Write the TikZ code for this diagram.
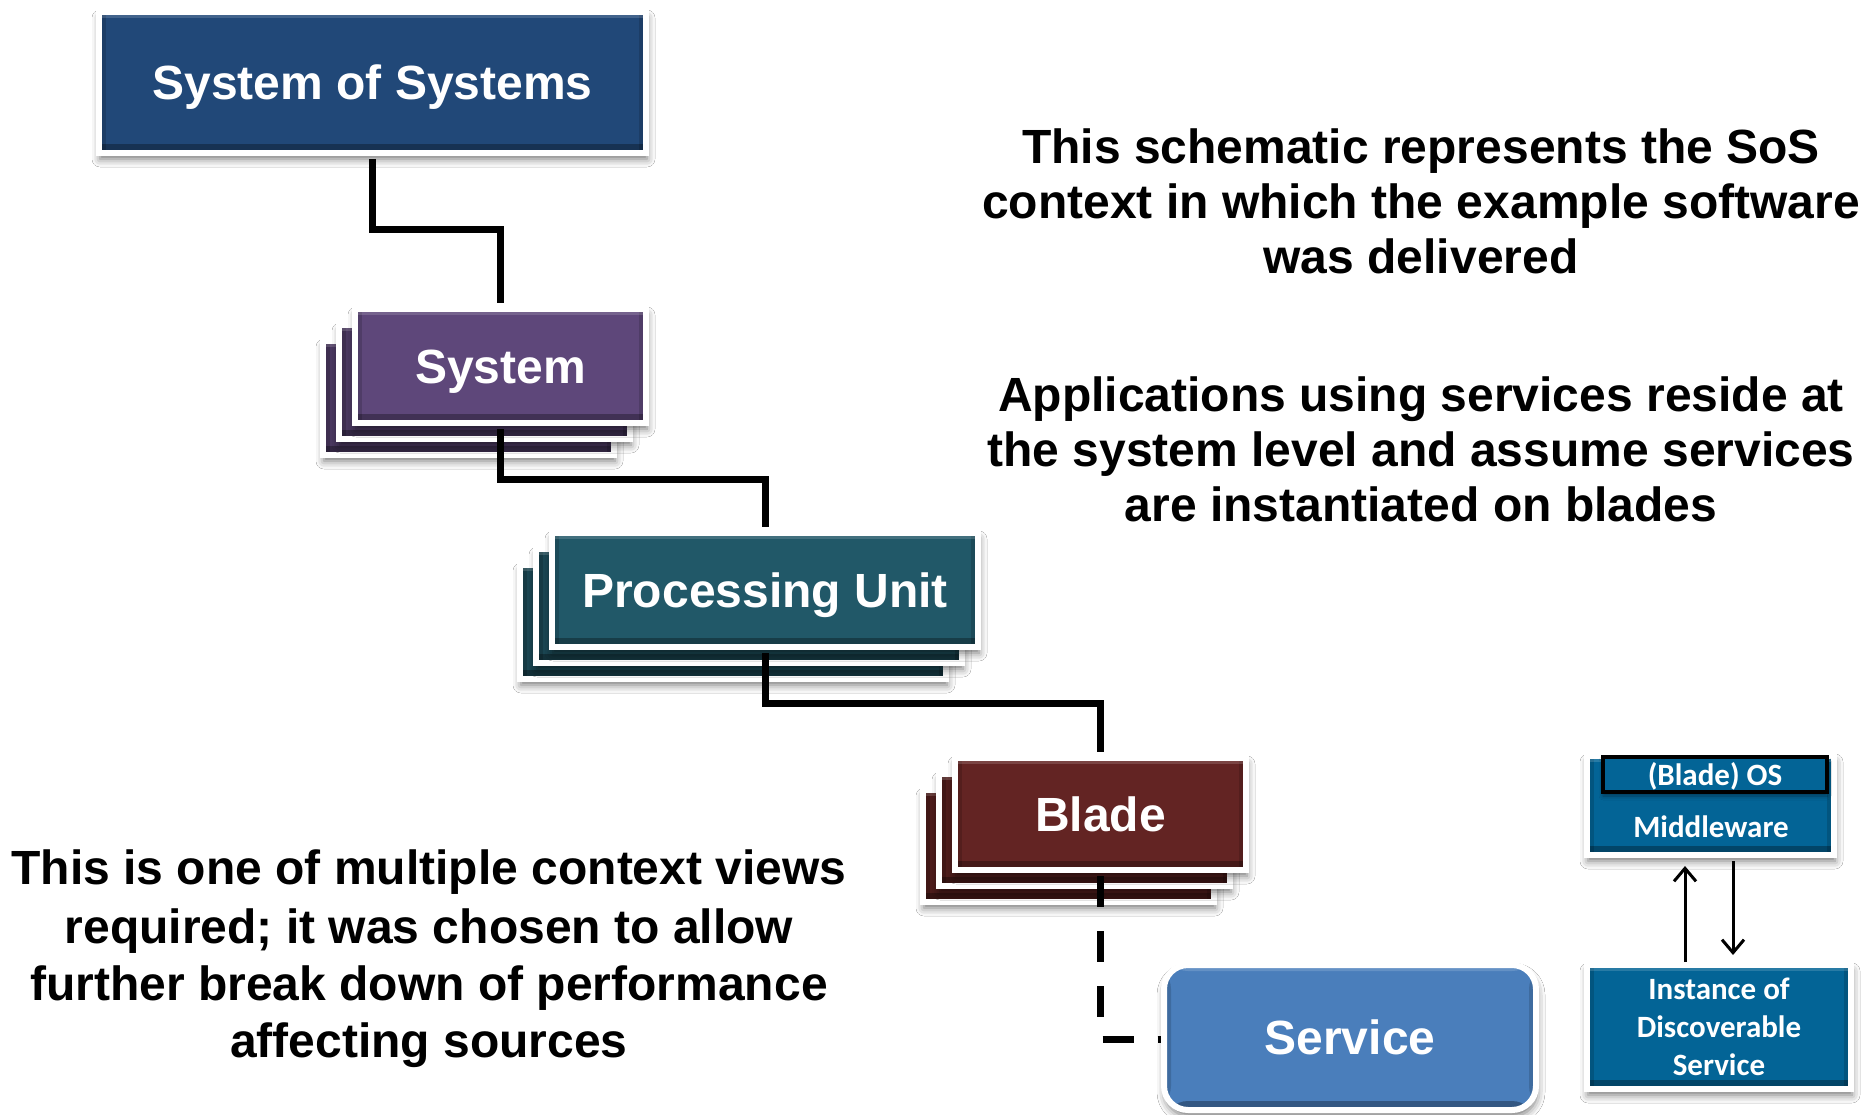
\documentclass[tikz,border=0pt]{standalone}
\usepackage{fontspec}
\setmainfont{Liberation Sans}
\newfontfamily\calfont{Carlito}
\usetikzlibrary{arrows.meta,shadows.blur,calc}
\definecolor{sosblue}{RGB}{33,72,120}
\definecolor{syspurple}{RGB}{94,71,122}
\definecolor{puteal}{RGB}{33,88,104}
\definecolor{bladered}{RGB}{99,36,35}
\definecolor{servblue}{RGB}{74,126,187}
\definecolor{rightblue}{RGB}{3,100,150}
\begin{document}
\begin{tikzpicture}[x=1pt,y=-1pt,
  bevel/.style={path picture={
      \fill[black,opacity=.3] (path picture bounding box.south west) rectangle ([yshift=9pt]path picture bounding box.south east);
      \fill[black,opacity=.15] (path picture bounding box.south east) rectangle ([xshift=-7pt]path picture bounding box.north east);
      \fill[black,opacity=.15] (path picture bounding box.south west) rectangle ([xshift=7pt]path picture bounding box.north west);
      \fill[white,opacity=.15] (path picture bounding box.north west) rectangle ([yshift=-6pt]path picture bounding box.north east);
    }},
  bx/.style={rectangle, inner sep=0pt, draw=white, line width=6pt, text=white,
    font=\bfseries\fontsize{48}{55}\selectfont, text height=34pt, text depth=0pt,
    blur shadow={shadow xshift=1pt, shadow yshift=-6pt, shadow blur radius=8pt, shadow opacity=55},
    bevel},
  smallbx/.style={rectangle, inner sep=0pt, draw=white, line width=6pt, text=white, fill=rightblue,
    font=\calfont\bfseries\fontsize{31}{38}\selectfont,
    blur shadow={shadow xshift=1pt, shadow yshift=-6pt, shadow blur radius=8pt, shadow opacity=55},
    bevel},
  conn/.style={line width=7pt, black, shorten <=3pt, shorten >=3pt},
  anno/.style={font=\bfseries\fontsize{48}{55}\selectfont, anchor=base, inner sep=0pt},
  arr/.style={line width=3pt, black, -{Straight Barb[length=13pt,width=22pt]}}
]
\useasboundingbox (0,0) rectangle (1868,1115);
\fill[white] (0,0) rectangle (1868,1115);

% stacked back boxes
\node[bx, fill=syspurple!78!black, minimum width=291pt, minimum height=114pt] (sysb2) at (468.5,398) {};
\node[bx, fill=syspurple!78!black, minimum width=291pt, minimum height=114pt] (sysb1) at (484.5,382) {};
\node[bx, fill=puteal!78!black, minimum width=426pt, minimum height=114pt] (pub2) at (733,622) {};
\node[bx, fill=puteal!78!black, minimum width=426pt, minimum height=114pt] (pub1) at (749,606) {};
\node[bx, fill=bladered!78!black, minimum width=291pt, minimum height=112pt] (blb2) at (1068.5,846) {};
\node[bx, fill=bladered!78!black, minimum width=291pt, minimum height=112pt] (blb1) at (1084.5,830) {};

% front boxes
\node[bx, fill=sosblue, minimum width=547pt, minimum height=141pt] (sos) at (372.5,82.5) {System of Systems};
\node[bx, fill=syspurple, minimum width=291pt, minimum height=114pt] (sys) at (500.5,366) {System};
\node[bx, fill=puteal, minimum width=426pt, minimum height=114pt] (pu) at (765,590) {Processing Unit};
\node[bx, fill=bladered, minimum width=291pt, minimum height=112pt] (blade) at (1100.5,814) {Blade};

% connectors
\coordinate (h1) at (0,230);
\coordinate (h2) at (0,479);
\coordinate (h3) at (0,703);
\coordinate (h4) at (0,1039);
\draw[conn] (sos.south) -- (sos.south |- h1) -| (sys.north);
\draw[conn] (sys.south) -- (sys.south |- h2) -| (pu.north);
\draw[conn] (pu.south) -- (pu.south |- h3) -| (blade.north);
\coordinate (dend) at (1170,1039);
\draw[line width=7pt, black, dash pattern=on 31pt off 24pt] ([yshift=-3pt]blade.south) -- (blade.south |- h4) -- (dend);

\node[bx, fill=servblue, rounded corners=24pt, minimum width=372pt, minimum height=145pt] (serv) at (1350,1037.5) {Service};

% right-hand boxes
\node[smallbx, minimum width=247pt, minimum height=99pt] (mw) at (1710.5,805.5) {};
\node[rectangle, inner sep=0pt, draw=black, line width=4pt, fill=rightblue, text=white,
      font=\calfont\bfseries\fontsize{31}{38}\selectfont, text height=21pt, text depth=0pt,
      minimum width=224pt, minimum height=35pt,
      blur shadow={shadow xshift=0pt, shadow yshift=-4pt, shadow blur radius=4pt, shadow opacity=40}] (os) at (1715,774.5) {(Blade) OS};
\node[text=white, inner sep=0pt, font=\calfont\bfseries\fontsize{31}{38}\selectfont,
      text height=21pt, text depth=0pt] (mwt) at (1711,827) {Middleware};
\node[smallbx, align=center, minimum width=264pt, minimum height=124pt] (inst) at (1719,1027)
  {Instance of\\Discoverable\\Service};

% arrows between middleware and instance
\coordinate (upx) at (1685,0);
\coordinate (dnx) at (1733,0);
\draw[arr] (upx |- inst.north) -- ([yshift=-8pt]upx |- mw.south);
\draw[arr] ([yshift=-3pt]dnx |- mw.south) -- ([yshift=7pt]dnx |- inst.north);

% annotations
\node[anno] (a1) at (1421,164) {This schematic represents the SoS};
\node[anno] (a2) at (1421,219) {context in which the example software};
\node[anno] (a3) at (1421,274) {was delivered};
\node[anno] (b1) at (1421,411) {Applications using services reside at};
\node[anno] (b2) at (1421,466) {the system level and assume services};
\node[anno] (b3) at (1421,521) {are instantiated on blades};
\node[anno] (c1) at (429,884) {This is one of multiple context views};
\node[anno] (c2) at (429,943) {required; it was chosen to allow};
\node[anno] (c3) at (429,1000) {further break down of performance};
\node[anno] (c4) at (429,1057) {affecting sources};
\end{tikzpicture}
\end{document}
